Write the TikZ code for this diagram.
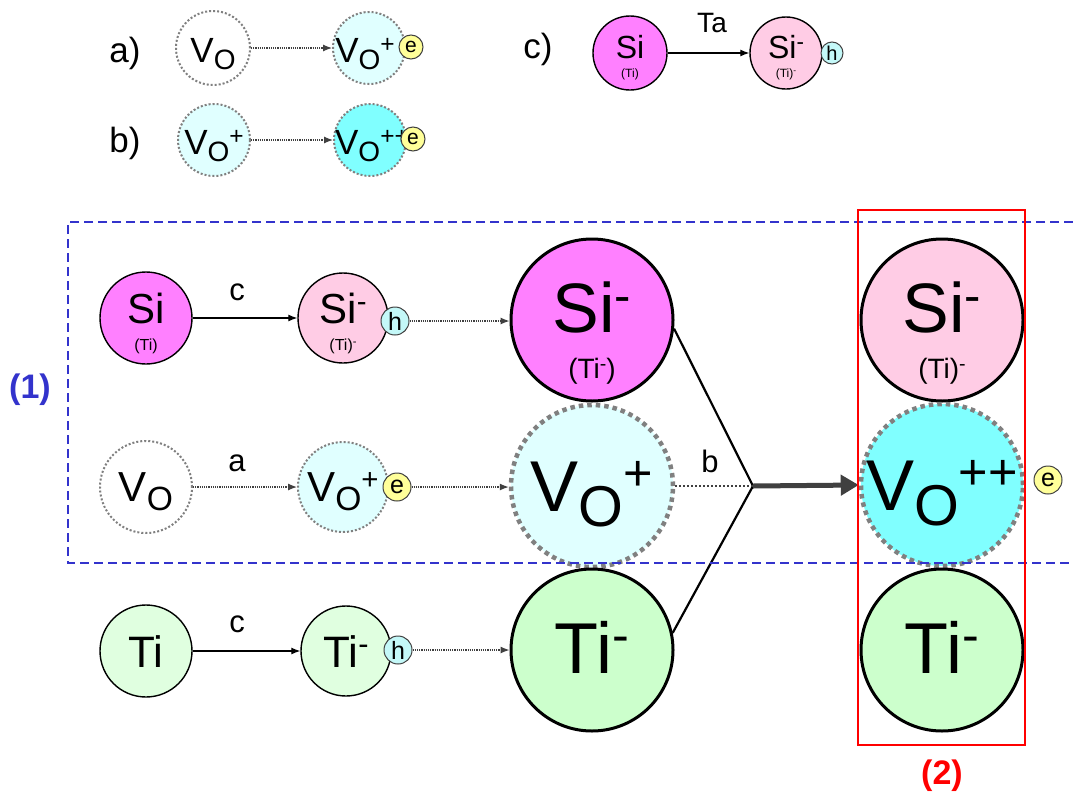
\documentclass[tikz,border=0pt]{standalone}
\usepackage{fontspec}
\usepackage{graphicx}
\setmainfont{Liberation Sans}
\usetikzlibrary{arrows.meta}
\definecolor{cmag}{HTML}{FF80FF}
\definecolor{cpink}{HTML}{FFCCE5}
\definecolor{clcyan}{HTML}{E0FFFF}
\definecolor{ccyan}{HTML}{80FFFF}
\definecolor{clgreen}{HTML}{E0FFE0}
\definecolor{cgreen}{HTML}{CCFFCC}
\definecolor{cyel}{HTML}{FFFF99}
\definecolor{chole}{HTML}{C4F8F8}
\definecolor{cdot}{HTML}{808080}
\definecolor{cblue}{HTML}{3333CC}
\definecolor{cdark}{HTML}{404040}
\newcommand{\fsz}[1]{\fontsize{#1}{#1}\selectfont}
\newcommand{\chrg}[2][0.28em]{\raisebox{#1}{\scalebox{0.7}{#2}}}
\newcommand{\vsub}{V\raisebox{-0.22em}{\scalebox{0.8}{O}}}
\begin{document}
\begin{tikzpicture}[x=1pt,y=-1pt,
  sball/.style={circle,inner sep=0pt,draw=black,line width=1.4pt,minimum size=#1},
  vball/.style={circle,inner sep=0pt,draw=cdot,line width=2pt,dash pattern=on 2pt off 2pt,minimum size=#1},
  bball/.style={circle,inner sep=0pt,draw=black,line width=3pt,minimum size=162pt},
  bvball/.style={circle,inner sep=0pt,draw=cdot,line width=4.5pt,dash pattern=on 4.5pt off 4pt,minimum size=162pt},
  carrier/.style={circle,inner sep=0pt,draw=black!75,line width=1pt,minimum size=#1},
  txt/.style={anchor=base,inner sep=0pt},
  solidarr/.style={line width=1.2pt,-{Latex[length=9pt,width=7pt]}},
  dotarr/.style={line width=1.2pt,draw=cdark,dash pattern=on 1.2pt off 1pt,-{Latex[length=9pt,width=7pt]}}]
\fill[white] (0,0) rectangle (1073,798);
\useasboundingbox (0,0) rectangle (1073,798);

% ---- legend a)
\node[txt,font=\fsz{35}] (la) at (125,62) {a)};
\node[vball=74pt,fill=white] (ta1) at (213,48) {};
\node[txt,font=\fsz{35}] (ta1t) at (213,62) {\vsub};
\node[vball=72pt,fill=clcyan] (ta2) at (369,48) {};
\node[txt,font=\fsz{35}] (ta2t) at (365,62) {\vsub\chrg{+}};
\node[carrier=24pt,fill=cyel,font=\fsz{21}] (ea) at (411,47) {e};
\draw[dotarr] (ta1) -- (ta2);

% ---- legend b)
\node[txt,font=\fsz{35}] (lb) at (125,152) {b)};
\node[vball=72pt,fill=clcyan] (tb1) at (214,140) {};
\node[txt,font=\fsz{35}] (tb1t) at (214,154) {\vsub\chrg{+}};
\node[vball=72pt,fill=ccyan] (tb2) at (370,140) {};
\node[txt,font=\fsz{35}] (tb2t) at (372,154) {\vsub\chrg{++}};
\node[carrier=24pt,fill=cyel,font=\fsz{21}] (eb) at (413,139) {e};
\draw[dotarr] (tb1) -- (tb2);

% ---- legend c)
\node[txt,font=\fsz{35}] (lc) at (538,58) {c)};
\node[sball=74pt,fill=cmag] (tc1) at (630,53) {};
\node[txt,font=\fsz{32}] (tc1t) at (630,58) {Si};
\node[txt,font=\fsz{12}] (tc1s) at (630,77) {(Ti)};
\node[sball=72pt,fill=cpink] (tc2) at (786,53) {};
\node[txt,font=\fsz{32}] (tc2t) at (786,58) {Si\chrg{-}};
\node[txt,font=\fsz{12}] (tc2s) at (786,77) {(Ti)\chrg{-}};
\node[carrier=22pt,fill=chole,font=\fsz{20}] (hc) at (832,53) {h};
\draw[solidarr] (tc1) -- (tc2);
\node[txt,font=\fsz{28}] (ta) at (712,32) {Ta};

% ---- row 1
\node[sball=92pt,fill=cmag] (si1) at (146,318) {};
\node[txt,font=\fsz{42}] (si1t) at (146,323) {Si};
\node[txt,font=\fsz{16}] (si1s) at (146,350) {(Ti)};
\node[sball=90pt,fill=cpink] (si2) at (343,318) {};
\node[txt,font=\fsz{42}] (si2t) at (343,323) {Si\chrg{-}};
\node[txt,font=\fsz{16}] (si2s) at (343,350) {(Ti)\chrg{-}};
\node[carrier=28pt,fill=chole,font=\fsz{25}] (h1) at (395,321) {h};
\draw[solidarr] (si1) -- (si2);
\node[txt,font=\fsz{31}] (c1) at (237,300) {c};
\node[bball,fill=cmag] (bsi) at (592,320) {};
\node[txt,font=\fsz{70}] (bsit) at (592,332) {Si\chrg{-}};
\node[txt,font=\fsz{28}] (bsis) at (592,378) {(Ti\chrg{-})};
\draw[dotarr] (h1) -- (h1 -| bsi.west);

% ---- row 2
\node[vball=92pt,fill=white] (vo1) at (146,487) {};
\node[txt,font=\fsz{42}] (vo1t) at (146,501) {\vsub};
\node[vball=90pt,fill=clcyan] (vo2) at (343,487) {};
\node[txt,font=\fsz{42}] (vo2t) at (343,501) {\vsub\chrg{+}};
\node[carrier=28pt,fill=cyel,font=\fsz{25}] (e1) at (397,487) {e};
\draw[dotarr] (vo1) -- (vo2);
\node[txt,font=\fsz{31}] (a1) at (237,471) {a};
\node[bvball,fill=clcyan] (bvo) at (592,486) {};
\node[txt,font=\fsz{72}] (bvot) at (592,511) {\vsub\chrg{+}};
\draw[dotarr] (e1) -- (e1 -| bvo.west);

% ---- row 3
\node[sball=92pt,fill=clgreen] (ti1) at (146,651) {};
\node[txt,font=\fsz{44}] (ti1t) at (146,667) {Ti};
\node[sball=90pt,fill=clgreen] (ti2) at (346,651) {};
\node[txt,font=\fsz{44}] (ti2t) at (346,667) {Ti\chrg{-}};
\node[carrier=28pt,fill=chole,font=\fsz{25}] (h2) at (398,650) {h};
\draw[solidarr] (ti1) -- (ti2);
\node[txt,font=\fsz{31}] (c2) at (237,632) {c};
\node[bball,fill=cgreen] (bti) at (592,650) {};
\node[txt,font=\fsz{72}] (btit) at (592,673) {Ti\chrg{-}};
\draw[dotarr] (h2) -- (h2 -| bti.west);

% ---- right column
\node[bball,fill=cpink] (rsi) at (942,320) {};
\node[txt,font=\fsz{70}] (rsit) at (942,332) {Si\chrg{-}};
\node[txt,font=\fsz{28}] (rsis) at (942,378) {(Ti)\chrg{-}};
\node[bvball,fill=ccyan] (rvo) at (942,485) {};
\node[txt,font=\fsz{72}] (rvot) at (942,510) {\vsub\chrg{++}};
\node[carrier=28pt,fill=cyel,font=\fsz{25}] (e2) at (1048,480) {e};
\node[bball,fill=cgreen] (rti) at (942,650) {};
\node[txt,font=\fsz{72}] (rtit) at (942,673) {Ti\chrg{-}};

% ---- junction
\coordinate (J) at (753,486);
\draw[line width=2.2pt] (bsi.-6) -- (J) -- (bti.12);
\draw[line width=2.5pt,draw=cdark,dash pattern=on 2pt off 2pt] (bvo.east) -- (J);
\node[txt,font=\fsz{31}] (b1) at (710,472) {b};
\draw[line width=5pt,draw=cdark,-{Triangle[length=18pt,width=20pt]}] (J) -- (rvo.west);

% ---- frames
\draw[cblue,line width=2.5pt,dash pattern=on 9pt off 5pt] (1073,222) -- (68,222) -- (68,563) -- (1073,563);
\node[font=\bfseries\fsz{34},text=cblue] (l1) at (30,390) {(1)};
\draw[red,line width=2pt] (858,210) rectangle (1025,745);
\node[font=\bfseries\fsz{34},text=red] (l2) at (942,776) {(2)};
\end{tikzpicture}
\end{document}
